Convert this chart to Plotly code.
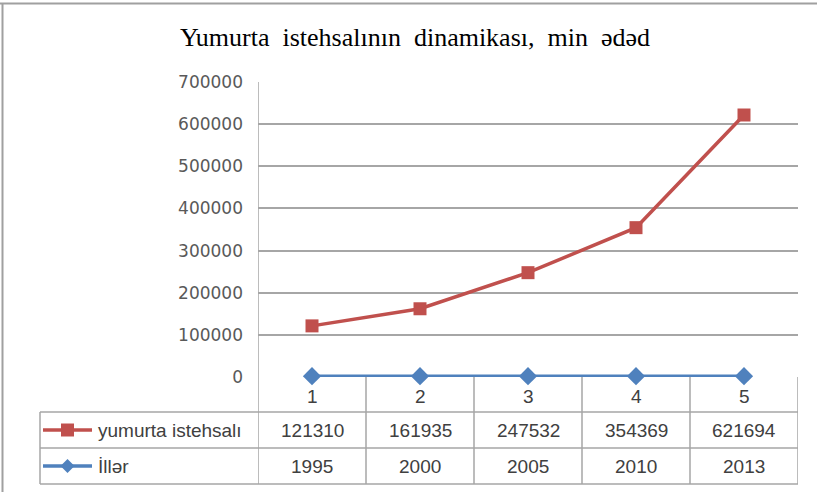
import plotly.graph_objects as go

categories = [1, 2, 3, 4, 5]
production = [121310, 161935, 247532, 354369, 621694]
years = [1995, 2000, 2005, 2010, 2013]
y_ticks = [0, 100000, 200000, 300000, 400000, 500000, 600000, 700000]
series_names = ['yumurta istehsalı', 'İllər']
title_text = 'Yumurta\u00a0 istehsalının\u00a0 dinamikası,\u00a0 min\u00a0 ədəd'

RED = '#C0504D'
BLUE = '#4F81BD'
GRID = '#a6a6a6'

W, H = 817, 492
L, R, T, B = 258, 19, 82, 115
PLOT_H = H - T - B


def py(p):
    # pixel row -> paper y
    return (H - B - p) / PLOT_H


def px(p):
    # pixel column -> paper x
    return (p - L) / (W - L - R)


fig = go.Figure()
fig.add_trace(go.Scatter(
    x=categories, y=production, mode='lines+markers', name=series_names[0],
    line=dict(color=RED, width=3.5),
    marker=dict(symbol='square', size=13, color=RED),
    cliponaxis=False
))
fig.add_trace(go.Scatter(
    x=categories, y=years, mode='lines+markers', name=series_names[1],
    line=dict(color=BLUE, width=3.5),
    marker=dict(symbol='diamond', size=14, color=BLUE),
    cliponaxis=False
))

shapes = []
line_style = dict(color=GRID, width=1.5)
# y axis line, runs down through the data table
shapes.append(dict(type='line', xref='x', yref='paper', x0=0.5, x1=0.5, y0=1, y1=py(484), line=line_style))
# category dividers
for c in categories:
    shapes.append(dict(type='line', xref='x', yref='paper', x0=c + 0.5, x1=c + 0.5,
                       y0=0, y1=py(484), line=line_style))
# table rows
for row_y in [412, 448, 484]:
    shapes.append(dict(type='line', xref='paper', yref='paper', x0=px(40), x1=1,
                       y0=py(row_y), y1=py(row_y), line=line_style))
shapes.append(dict(type='line', xref='paper', yref='paper', x0=px(40), x1=px(40),
                   y0=py(412), y1=py(484), line=line_style))

# legend keys inside the table
for row_y, color in [(430, RED), (466, BLUE)]:
    shapes.append(dict(type='line', xref='paper', yref='paper', x0=px(43), x1=px(92),
                       y0=py(row_y), y1=py(row_y), line=dict(color=color, width=3.5)))
shapes.append(dict(type='rect', xref='paper', yref='paper', x0=px(61), x1=px(74),
                   y0=py(436.5), y1=py(423.5), fillcolor=RED, line=dict(width=0)))
shapes.append(dict(type='path', xref='paper', yref='paper',
                   path='M {0},{1} L {2},{3} L {0},{4} L {5},{3} Z'.format(
                       px(67.5), py(459), px(74.5), py(466), py(473), px(60.5)),
                   fillcolor=BLUE, line=dict(width=0)))

# outer chart border (top and left visible)
shapes.append(dict(type='line', xref='paper', yref='paper', x0=px(0), x1=px(W),
                   y0=py(3.5), y1=py(3.5), line=dict(color='#a0a0a0', width=2)))
shapes.append(dict(type='line', xref='paper', yref='paper', x0=px(2.5), x1=px(2.5),
                   y0=py(3), y1=py(H), line=dict(color='#a0a0a0', width=2)))

annotations = []
table_font = dict(family='Liberation Sans', size=19, color='#404040')
for c in categories:
    annotations.append(dict(x=c, xref='x', y=py(396), yref='paper', yanchor='middle',
                            text=str(c), showarrow=False, font=table_font))
for c, v in zip(categories, production):
    annotations.append(dict(x=c, xref='x', y=py(430), yref='paper', yanchor='middle',
                            text=str(v), showarrow=False, font=table_font))
for c, v in zip(categories, years):
    annotations.append(dict(x=c, xref='x', y=py(466), yref='paper', yanchor='middle',
                            text=str(v), showarrow=False, font=table_font))
for name, row_y in zip(series_names, [430, 466]):
    annotations.append(dict(x=px(96), xref='paper', xanchor='left', y=py(row_y), yref='paper',
                            yanchor='middle', text=name, showarrow=False, font=table_font))

fig.update_layout(
    width=W, height=H,
    margin=dict(l=L, r=R, t=T, b=B),
    paper_bgcolor='white', plot_bgcolor='white',
    showlegend=False,
    title=dict(text=title_text, x=415 / W, xanchor='center', y=1 - 37 / H, yanchor='middle',
               font=dict(family='Liberation Serif', size=26, color='black')),
    xaxis=dict(range=[0.5, 5.5], showticklabels=False, showgrid=False, zeroline=False,
               showline=False, fixedrange=True),
    yaxis=dict(range=[0, 700000], tickvals=y_ticks, ticktext=[str(t) for t in y_ticks],
               showgrid=True, gridcolor=GRID, gridwidth=1.5, zeroline=False, showline=False,
               ticklabelstandoff=14,
               tickfont=dict(family='DejaVu Sans', size=17, color='#595959')),
    shapes=shapes,
    annotations=annotations,
)

# the page body has a default 8px margin; drop it so the chart sits at the window origin
fig.write_html("out.html", config={'displayModeBar': False},
               post_script="document.body.style.margin='0';")
